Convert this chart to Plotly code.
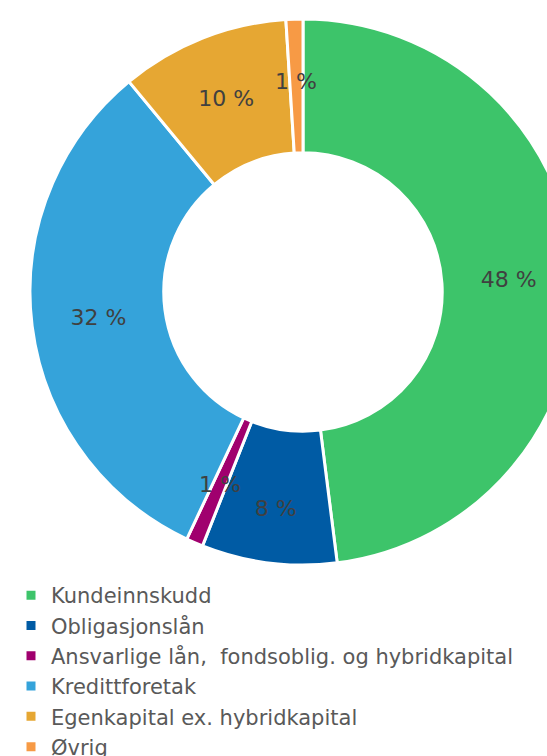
import math
import plotly.graph_objects as go

labels = ["Kundeinnskudd", "Obligasjonslån", "Ansvarlige lån, \u00a0fondsoblig. og hybridkapital",
          "Kredittforetak", "Egenkapital ex. hybridkapital", "Øvrig"]
values = [48, 8, 1, 32, 10, 1]
colors = ["#3DC46A", "#005BA4", "#A0006E", "#35A3DA", "#E6A733", "#F79A45"]

W, H = 600, 780
ML, MR, MT, MB = 30, 24, 19, 0
PW = W - ML - MR
PH = H - MT - MB
HOLE = 0.51
FONT = "DejaVu Sans"
LABEL_SIZE = 22

y0 = (H - 565) / PH
small = [v < 2 for v in values]
templates = ["" if s else "%{value} %" for s in small]

fig = go.Figure(go.Pie(
    labels=labels,
    values=values,
    sort=False,
    direction="clockwise",
    rotation=0,
    hole=HOLE,
    marker=dict(colors=colors, line=dict(color="white", width=3)),
    texttemplate=templates,
    textposition="inside",
    insidetextorientation="horizontal",
    textfont=dict(size=LABEL_SIZE, color="#404040", family=FONT),
    hoverinfo="label+value",
    domain=dict(x=[0, 1], y=[y0, 1]),
))

# labels for the thin slices, placed in the ring on each slice's bisector
total = sum(values)
R_px = min(PW, (1 - y0) * PH) / 2
r_mid = (1 + HOLE) / 2 * R_px * 1.02
cx, cy = 0.5, (y0 + 1) / 2
cum = 0
for v, s in zip(values, small):
    mid = (cum + v / 2) / total * 2 * math.pi
    cum += v
    if not s:
        continue
    fig.add_annotation(
        x=cx + r_mid * math.sin(mid) / PW,
        y=cy + r_mid * math.cos(mid) / PH,
        xref="paper", yref="paper",
        xanchor="center", yanchor="middle",
        text=f"{v} %", showarrow=False,
        font=dict(size=LABEL_SIZE, color="#404040", family=FONT),
    )

fig.update_layout(
    width=W, height=H,
    margin=dict(l=ML, r=MR, t=MT, b=MB),
    paper_bgcolor="white",
    plot_bgcolor="white",
    font=dict(family=FONT, color="#595959"),
    uniformtext=dict(minsize=LABEL_SIZE, mode="show"),
    showlegend=True,
    legend=dict(
        x=(11 - ML) / PW, xanchor="left",
        y=(H - 575) / PH, yanchor="top",
        orientation="v",
        font=dict(size=21, color="#595959", family=FONT),
        bgcolor="rgba(0,0,0,0)",
        traceorder="normal",
    ),
)

fig.write_html("out.html", config={"displayModeBar": False}, post_script=(
    "document.body.style.margin='0';"
    "document.body.style.overflow='hidden';"
    "document.documentElement.style.overflow='hidden';"
))
